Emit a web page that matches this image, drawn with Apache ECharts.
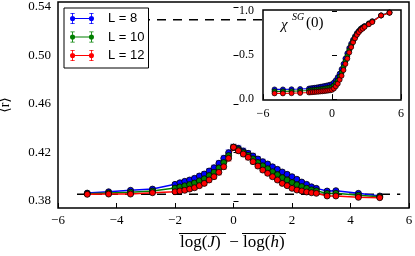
<!DOCTYPE html>
<html><head><meta charset="utf-8">
<script src="https://cdn.jsdelivr.net/npm/echarts@6/dist/echarts.min.js"></script>
<style>html,body{margin:0;padding:0;background:#fff}#c{width:415px;height:256px}</style>
</head><body><div id="c"></div>
<script>
// ---- data ----
const xVals = [-5.0, -4.27, -3.52, -2.77,
  -2.0, -1.833, -1.667, -1.5, -1.333, -1.167, -1.0, -0.833, -0.667, -0.5, -0.333, -0.167, 0.0,
  0.167, 0.333, 0.5, 0.667, 0.833, 1.0, 1.167, 1.333, 1.5, 1.667, 1.833, 2.0, 2.167, 2.333, 2.5, 2.667, 2.833,
  3.2, 3.5, 4.27, 5.0];
const seriesNames = ['L = 8', 'L = 10', 'L = 12'];
const rL8 = [0.3865, 0.3876, 0.3888, 0.3898,
  0.3937, 0.3950, 0.3962, 0.3973, 0.3987, 0.4006, 0.4022, 0.4047, 0.4074, 0.4111, 0.4152, 0.4198, 0.4243,
  0.4234, 0.4212, 0.4193, 0.4171, 0.4146, 0.4124, 0.4105, 0.4082, 0.4061, 0.4039, 0.4020, 0.4000, 0.3979, 0.3956, 0.3937, 0.3917, 0.3904,
  0.3882, 0.3885, 0.3863, 0.3841];
const rL10 = [0.3860, 0.3866, 0.3872, 0.3882,
  0.3906, 0.3916, 0.3925, 0.3935, 0.3948, 0.3966, 0.3983, 0.4010, 0.4037, 0.4073, 0.4117, 0.4175, 0.4243,
  0.4224, 0.4200, 0.4176, 0.4148, 0.4117, 0.4090, 0.4066, 0.4041, 0.4017, 0.3992, 0.3973, 0.3952, 0.3934, 0.3919, 0.3905, 0.3892, 0.3884,
  0.3862, 0.3863, 0.3847, 0.3834];
const rL12 = [0.3855, 0.3857, 0.3857, 0.3868,
  0.3876, 0.3882, 0.3888, 0.3898, 0.3909, 0.3926, 0.3945, 0.3973, 0.4000, 0.4036, 0.4082, 0.4152, 0.4243,
  0.4214, 0.4187, 0.4160, 0.4124, 0.4088, 0.4055, 0.4028, 0.4000, 0.3973, 0.3945, 0.3926, 0.3904, 0.3890, 0.3882, 0.3874, 0.3868, 0.3863,
  0.3841, 0.3841, 0.3830, 0.3827];
const errL8 = [0.0008, 0.0008, 0.0008, 0.0009,
  0.0015, 0.0015, 0.0016, 0.0017, 0.0018, 0.0019, 0.0020, 0.0021, 0.0022, 0.0023, 0.0024, 0.0025, 0.0025,
  0.0025, 0.0024, 0.0023, 0.0022, 0.0021, 0.0020, 0.0019, 0.0018, 0.0017, 0.0016, 0.0015, 0.0014, 0.0013, 0.0012, 0.0011, 0.0010, 0.0010,
  0.0009, 0.0008, 0.0008, 0.0008];
const errL10 = [0.0007, 0.0007, 0.0007, 0.0008,
  0.0014, 0.0014, 0.0015, 0.0016, 0.0017, 0.0018, 0.0019, 0.0020, 0.0021, 0.0022, 0.0023, 0.0024, 0.0024,
  0.0024, 0.0023, 0.0022, 0.0021, 0.0020, 0.0019, 0.0018, 0.0017, 0.0016, 0.0015, 0.0014, 0.0013, 0.0012, 0.0011, 0.0010, 0.0009, 0.0009,
  0.0008, 0.0007, 0.0007, 0.0007];
const errL12 = [0.0007, 0.0007, 0.0007, 0.0007,
  0.0013, 0.0013, 0.0014, 0.0015, 0.0016, 0.0017, 0.0018, 0.0019, 0.0020, 0.0021, 0.0022, 0.0023, 0.0023,
  0.0023, 0.0022, 0.0021, 0.0020, 0.0019, 0.0018, 0.0017, 0.0016, 0.0015, 0.0014, 0.0013, 0.0012, 0.0011, 0.0010, 0.0009, 0.0008, 0.0008,
  0.0007, 0.0007, 0.0007, 0.0007];
const chiL8 = [0.110, 0.110, 0.112, 0.115,
  0.120, 0.123, 0.126, 0.129, 0.132, 0.136, 0.140, 0.144, 0.148, 0.153, 0.158, 0.164, 0.170,
  0.190, 0.215, 0.250, 0.290, 0.340, 0.400, 0.460, 0.520, 0.580, 0.630, 0.675, 0.715, 0.750, 0.775, 0.800, 0.815, 0.830,
  0.860, 0.885, 0.950, 0.985];
const chiL10 = [0.088, 0.088, 0.090, 0.092,
  0.098, 0.100, 0.102, 0.105, 0.107, 0.110, 0.113, 0.116, 0.119, 0.123, 0.127, 0.132, 0.137,
  0.155, 0.180, 0.212, 0.255, 0.302, 0.365, 0.430, 0.490, 0.555, 0.610, 0.660, 0.702, 0.740, 0.768, 0.792, 0.808, 0.825,
  0.855, 0.880, 0.950, 0.982];
const chiL12 = [0.065, 0.065, 0.067, 0.070,
  0.075, 0.077, 0.079, 0.081, 0.083, 0.085, 0.087, 0.089, 0.091, 0.094, 0.097, 0.100, 0.105,
  0.120, 0.145, 0.175, 0.220, 0.265, 0.330, 0.400, 0.460, 0.530, 0.590, 0.645, 0.690, 0.730, 0.760, 0.785, 0.800, 0.820,
  0.850, 0.875, 0.950, 0.980];
const poissonR = 0.3855;
const goeR = 0.5295;
const refLineX = [-5.35, 5.7];
const mainYTicks = [0.38, 0.42, 0.46, 0.50, 0.54];
const insetYTicks = [0.0, 0.5, 1.0];

// ---- styling ----
const colors = ['#0000ff', '#008000', '#ff0000'];
const errColors = ['rgba(40,40,255,0.5)', 'rgba(0,140,0,0.5)', 'rgba(255,40,40,0.5)'];
const serif = "'Liberation Serif','DejaVu Serif',serif";
const minus = v => (v < 0 ? '\u2212' + Math.abs(v) : String(v));

const rSets = [rL8, rL10, rL12];
const eSets = [errL8, errL10, errL12];
const cSets = [chiL8, chiL10, chiL12];

function errRender(color) {
  return function (params, api) {
    const x = api.value(0), lo = api.value(1), hi = api.value(2);
    const p1 = api.coord([x, lo]), p2 = api.coord([x, hi]);
    const w = 3;
    const st = { stroke: color, lineWidth: 1 };
    return { type: 'group', children: [
      { type: 'line', shape: { x1: p1[0], y1: p1[1], x2: p2[0], y2: p2[1] }, style: st },
      { type: 'line', shape: { x1: p1[0] - w, y1: p1[1], x2: p1[0] + w, y2: p1[1] }, style: st },
      { type: 'line', shape: { x1: p2[0] - w, y1: p2[1], x2: p2[0] + w, y2: p2[1] }, style: st }
    ]};
  };
}

const series = [];
[poissonR, goeR].forEach(v => {
  series.push({ type: 'line', xAxisIndex: 0, yAxisIndex: 0, silent: true, symbol: 'none',
    data: refLineX.map(x => [x, v]),
    lineStyle: { color: '#000', width: 1.5, type: [9, 7] }, z: 2 });
});
for (let s = 0; s < 3; s++) {
  series.push({ type: 'custom', name: 'err' + s, xAxisIndex: 0, yAxisIndex: 0, silent: true,
    renderItem: errRender(errColors[s]), encode: { x: 0, y: [1, 2] },
    data: xVals.map((x, i) => [x, rSets[s][i] - eSets[s][i], rSets[s][i] + eSets[s][i]]), z: 2 });
  series.push({ type: 'line', name: seriesNames[s], xAxisIndex: 0, yAxisIndex: 0,
    data: xVals.map((x, i) => [x, rSets[s][i]]),
    symbol: 'circle', symbolSize: 6, color: colors[s],
    lineStyle: { color: colors[s], width: 1.5 },
    itemStyle: { color: colors[s], borderColor: '#000', borderWidth: 0.8 }, z: 3 });
}
for (let s = 0; s < 3; s++) {
  series.push({ type: 'line', name: seriesNames[s], xAxisIndex: 1, yAxisIndex: 1,
    data: xVals.map((x, i) => [x, cSets[s][i]]),
    symbol: 'circle', symbolSize: 5, color: colors[s],
    lineStyle: { color: colors[s], width: 1.2 },
    itemStyle: { color: colors[s], borderColor: '#000', borderWidth: 0.7 }, z: 8 });
}

const legendIcon = 'path://M3,6.4L25,6.4L25,7.6L3,7.6Z' +
  'M0,7A3,3 0 1 1 6,7A3,3 0 1 1 0,7Z' +
  'M22,7A3,3 0 1 1 28,7A3,3 0 1 1 22,7Z' +
  'M2.5,1L3.5,1L3.5,13L2.5,13Z M0.5,0.5L5.5,0.5L5.5,1.5L0.5,1.5Z M0.5,12.5L5.5,12.5L5.5,13.5L0.5,13.5Z' +
  'M24.5,1L25.5,1L25.5,13L24.5,13Z M22.5,0.5L27.5,0.5L27.5,1.5L22.5,1.5Z M22.5,12.5L27.5,12.5L27.5,13.5L22.5,13.5Z';

const tickStyle = { show: true, inside: true, length: 5, lineStyle: { color: '#000', width: 1 } };
const titleFont = "17px 'Liberation Serif','DejaVu Serif',serif";
const titleFontI = "italic 17px 'Liberation Serif','DejaVu Serif',serif";

const option = {
  animation: false,
  backgroundColor: '#fff',
  grid: [
    { left: 58, top: 2, width: 351, height: 206, show: true, borderColor: '#000', borderWidth: 1.5,
      backgroundColor: 'transparent', outerBoundsMode: 'none', containLabel: false },
    { left: 263, top: 10, width: 138, height: 90, show: true, borderColor: '#000', borderWidth: 1.5,
      backgroundColor: '#fff', z: 5, outerBoundsMode: 'none', containLabel: false }
  ],
  xAxis: [
    { type: 'value', gridIndex: 0, min: -6, max: 6, interval: 2, splitLine: { show: false },
      axisLine: { show: false }, axisTick: tickStyle,
      axisLabel: { color: '#000', fontFamily: serif, fontSize: 13, margin: 6, formatter: minus } },
    { type: 'value', gridIndex: 1, min: -6, max: 6, interval: 6, splitLine: { show: false }, z: 6,
      axisLine: { show: false }, axisTick: tickStyle,
      axisLabel: { color: '#000', fontFamily: serif, fontSize: 12, margin: 8, formatter: minus } }
  ],
  yAxis: [
    { type: 'value', gridIndex: 0, min: 0.3742, max: 0.5441, splitLine: { show: false },
      axisLine: { show: false },
      axisTick: Object.assign({}, tickStyle, { customValues: mainYTicks }),
      axisLabel: { color: '#000', fontFamily: serif, fontSize: 13, margin: 7, customValues: mainYTicks,
        formatter: v => v.toFixed(2) },
      name: '\u27e8r\u27e9', nameLocation: 'middle', nameGap: 46, nameRotate: 90,
      nameTextStyle: { color: '#000', fontFamily: serif, fontSize: 14 } },
    { type: 'value', gridIndex: 1, min: -0.01, max: 1.012, splitLine: { show: false }, z: 6,
      axisLine: { show: false },
      axisTick: Object.assign({}, tickStyle, { customValues: insetYTicks }),
      axisLabel: { color: '#000', fontFamily: serif, fontSize: 12, margin: 9, customValues: insetYTicks,
        formatter: v => v.toFixed(1) } }
  ],
  legend: {
    data: seriesNames, orient: 'vertical', left: 64, top: 8,
    padding: [4, 4, 6, 6], itemGap: 5.5, itemWidth: 24, itemHeight: 13,
    icon: legendIcon, itemStyle: { borderWidth: 0 },
    backgroundColor: '#fff', borderColor: '#000', borderWidth: 1, borderRadius: 0,
    textStyle: { color: '#000', fontFamily: "'Liberation Sans',Arial,sans-serif", fontSize: 13, padding: [0, 0, 0, 9] },
    selectedMode: false, z: 4
  },
  graphic: [
    { type: 'text', x: 180, y: 243, z: 10, style: { text: '{n|log(}{i|J}{n|)}', verticalAlign: 'middle',
      rich: { n: { font: titleFont, fill: '#000' }, i: { font: titleFontI, fill: '#000' } } } },
    { type: 'text', x: 234, y: 243, z: 10, style: { text: '\u2212', font: titleFont, fill: '#000', align: 'center', verticalAlign: 'middle' } },
    { type: 'text', x: 243, y: 243, z: 10, style: { text: '{n|log(}{i|h}{n|)}', verticalAlign: 'middle',
      rich: { n: { font: titleFont, fill: '#000' }, i: { font: titleFontI, fill: '#000' } } } },
    { type: 'line', z: 10, shape: { x1: 179, y1: 233.5, x2: 226, y2: 233.5 }, style: { stroke: '#000', lineWidth: 1 } },
    { type: 'line', z: 10, shape: { x1: 242, y1: 233.5, x2: 286, y2: 233.5 }, style: { stroke: '#000', lineWidth: 1 } },
    { type: 'text', x: 281, y: 25, z: 20, style: { text: '\u03c7', font: "italic 15px 'Liberation Serif','DejaVu Serif',serif", fill: '#000', verticalAlign: 'middle' } },
    { type: 'text', x: 292, y: 17, z: 20, style: { text: 'SG', font: "italic 10px 'Liberation Serif','DejaVu Serif',serif", fill: '#000', verticalAlign: 'middle' } },
    { type: 'text', x: 306, y: 23, z: 20, style: { text: '(0)', font: "15px 'Liberation Serif','DejaVu Serif',serif", fill: '#000', verticalAlign: 'middle' } }
  ],
  series: series
};

const chart = echarts.init(document.getElementById('c'), null, { renderer: 'canvas' });
chart.setOption(option);
</script>
</body></html>
